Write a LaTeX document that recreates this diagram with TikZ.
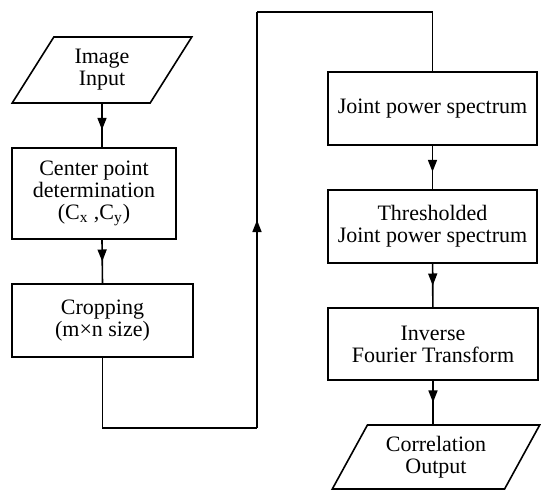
\documentclass[tikz,border=0pt]{standalone}
\usepackage{fontspec}
\setmainfont{Liberation Serif}
\usetikzlibrary{arrows.meta,positioning,calc,shapes.geometric,decorations.markings}

\begin{document}
\begin{tikzpicture}[
  x=0.5pt, y=-0.5pt,
  font=\fontsize{11}{11}\selectfont, >=Latex,
  box/.style={draw=black, line width=0.8pt, align=center, inner sep=2pt},
  io/.style={box, trapezium, trapezium left angle=61, trapezium right angle=119, trapezium stretches=true},
  wire/.style={line width=0.8pt},
  midarrow/.style={wire, postaction={decorate},
    decoration={markings, mark=at position #1 with {\arrow{Triangle[length=6pt, width=4.5pt]}}}},
]
  \useasboundingbox (0,0) rectangle (541,492);
  % left column
  \node[io, minimum width=90pt, minimum height=33pt] (input) at (102,70) {Image\\Input};
  \node[box, minimum width=82pt, minimum height=45.5pt] (center) at (94,193.5)
    {Center point\\determination\\(C\textsubscript{x} ,C\textsubscript{y})};
  \node[box, minimum width=90.5pt, minimum height=36.5pt] (crop) at (102.5,320.5)
    {Cropping\\(m×n size)};
  % right column
  \node[box, minimum width=104.5pt, minimum height=36.5pt] (joint) at (432.5,108.5) {Joint power spectrum};
  \node[box, minimum width=104.5pt, minimum height=36.5pt] (thresh) at (432.5,226.5)
    {Thresholded\\Joint power spectrum};
  \node[box, minimum width=105pt, minimum height=36pt] (inverse) at (433,344)
    {Inverse\\Fourier Transform};
  \node[io, minimum width=104pt, minimum height=32pt] (output) at (436,457) {Correlation\\Output};
  % connectors
  \draw[midarrow=0.6] (input.south) -- (input |- center.north);
  \draw[midarrow=0.5] (input |- center.south) -- (crop.north);
  \coordinate (lb) at (257,428);
  \coordinate (lt) at (257,12);
  \draw[wire] (crop.south) |- (lb);
  \draw[midarrow=0.5] (lb) -- (lt);
  \draw[wire] (lt) -| (joint.north);
  \draw[midarrow=0.6] (joint) -- (thresh);
  \draw[midarrow=0.5] (thresh) -- (inverse);
  \draw[midarrow=0.5] (inverse.south) -- (inverse |- output.north);
\end{tikzpicture}
\end{document}
